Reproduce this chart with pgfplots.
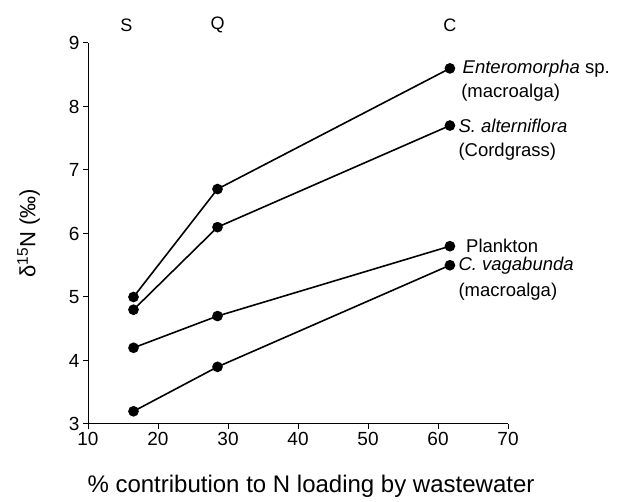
\documentclass[border=0pt]{standalone}
\usepackage{fontspec}
\setmainfont{Liberation Sans}
\usepackage{pgfplots}
\pgfplotsset{compat=1.18}
\tikzset{ser/.style={black, line width=1.6pt, mark=*, mark size=4.5pt, mark options={fill=black, solid}}}
\begin{document}
\begin{tikzpicture}
\begin{axis}[
  scale only axis, width=420pt, height=381pt,
  xmin=10, xmax=70, ymin=3, ymax=9,
  axis lines*=left, axis line style={-, line width=1pt},
  xtick={10,20,...,70}, ytick={3,4,...,9},
  tick align=outside, major tick length=5pt,
  tick style={line width=1pt, black},
  /pgf/number format/assume math mode=true,
  tick label style={font=\fontsize{19}{19}\selectfont},
  xlabel={\% contribution to N loading by wastewater},
  xlabel style={font=\fontsize{24}{24}\selectfont, yshift=-22pt, xshift=13pt},
  ylabel={δ\textsuperscript{15}N (‰)},
  ylabel style={font=\fontsize{22}{22}\selectfont, yshift=22pt},
  clip=false,
]
\addplot[ser] coordinates {(16.5,5.0) (28.5,6.7) (61.7,8.6)};
\addplot[ser] coordinates {(16.5,4.8) (28.5,6.1) (61.7,7.7)};
\addplot[ser] coordinates {(16.5,4.2) (28.5,4.7) (61.7,5.8)};
\addplot[ser] coordinates {(16.5,3.2) (28.5,3.9) (61.7,5.5)};
\begin{scope}[every node/.style={font=\fontsize{18.5}{18.5}\selectfont, anchor=west, inner xsep=0pt}]
\node at (axis cs:63.5,8.6) {\textit{Enteromorpha} sp.};
\node at (axis cs:63.3,8.22) {(macroalga)};
\node at (axis cs:62.9,7.7) {\textit{S. alterniflora}};
\node at (axis cs:62.9,7.28) {(Cordgrass)};
\node at (axis cs:64.0,5.8) {Plankton};
\node at (axis cs:62.9,5.5) {\textit{C. vagabunda}};
\node at (axis cs:62.9,5.08) {(macroalga)};
\end{scope}
\begin{scope}[every node/.style={font=\fontsize{18}{18}\selectfont}]
\node at (axis cs:15.5,9.28) {S};
\node at (axis cs:28.5,9.28) {Q};
\node at (axis cs:61.7,9.28) {C};
\end{scope}
\end{axis}
\path[use as bounding box] (-88pt,-78pt) rectangle (529pt,424pt);
\end{tikzpicture}
\end{document}
